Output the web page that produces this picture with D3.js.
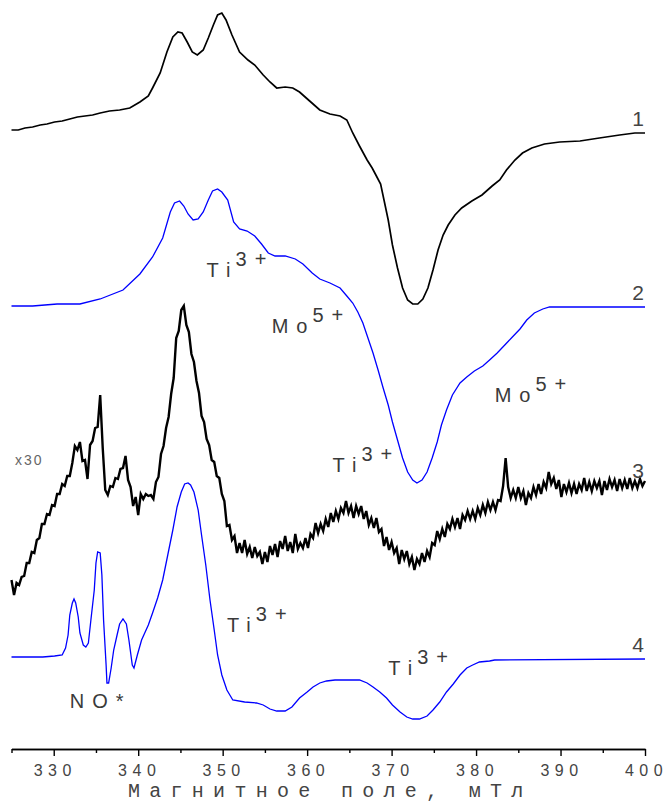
<!DOCTYPE html>
<html>
<head>
<meta charset="utf-8">
<script src="https://cdn.jsdelivr.net/npm/d3@7"></script>
<style>
  html, body { margin: 0; padding: 0; background: #fff; }
  svg { display: block; }
</style>
</head>
<body>
<div id="chart"></div>
<script>
// ---- EPR spectra, field in mT, intensity in arbitrary units relative to each trace baseline ----

// Trace 1: black experimental spectrum (field, intensity)
const trace1 = [
  [325.0,3],[325.8,3],[326.6,5],[327.5,6],[328.4,8],[329.2,9],[330.1,11],[331.0,12],[331.9,14],[332.8,16],
  [333.7,17],[334.6,18],[335.5,20],[336.6,22],[337.8,23],[339.0,25],[340.2,31],[341.2,37],[341.7,45],[342.6,60],
  [343.4,81],[344.1,96],[344.7,101],[345.2,100],[345.8,91],[346.4,81],[347.0,78],[347.7,83],[348.3,95],[348.9,108],
  [349.4,118],[349.9,120],[350.4,113],[351.1,98],[352.0,81],[353.0,73],[353.8,68],[354.8,58],[355.6,51],[356.4,45],
  [357.4,46],[358.3,45],[359.1,41],[360.3,32],[361.5,23],[362.7,19],[363.9,17],[364.7,13],[365.4,0],[366.2,-13],
  [367.1,-27],[367.7,-35],[368.2,-43],[368.7,-51],[369.1,-67],[369.6,-87],[370.1,-112],[370.7,-135],[371.3,-155],[371.9,-167],
  [372.5,-171],[373.1,-171],[373.7,-166],[374.3,-155],[374.9,-137],[375.5,-117],[376.1,-102],[376.7,-92],[377.5,-82],[378.3,-75],
  [379.5,-68],[380.7,-62],[381.9,-53],[382.8,-47],[383.6,-37],[384.6,-27],[385.5,-20],[386.6,-15],[388.1,-11],[389.9,-9],
  [392.3,-8],[394.6,-5],[397.0,-2],[398.8,0],[400.0,0]
];

// Trace 2: blue simulated spectrum (field, intensity)
const trace2 = [
  [325.0,1],[327.5,1],[330.4,3],[333.1,3],[335.5,8],[338.2,17],[340.2,33],[341.7,50],[342.9,69],[343.8,95],
  [344.3,104],[344.9,106],[345.4,101],[345.9,93],[346.5,87],[347.1,88],[347.7,95],[348.3,107],[348.8,116],[349.4,118],
  [349.9,115],[350.6,107],[351.3,85],[352.0,78],[352.9,76],[353.8,71],[354.6,63],[355.4,54],[356.2,51],[357.4,51],
  [358.6,48],[359.5,43],[360.6,34],[361.5,28],[362.7,24],[363.9,19],[364.7,11],[365.4,4],[366.0,-5],[366.6,-16],
  [367.2,-31],[367.8,-46],[368.4,-63],[369.0,-81],[369.6,-98],[370.1,-115],[370.7,-133],[371.3,-151],[371.9,-165],[372.5,-173],
  [373.0,-176],[373.6,-173],[374.2,-165],[374.8,-151],[375.4,-135],[375.9,-118],[376.5,-103],[377.2,-88],[378.1,-76],[378.9,-70],
  [379.8,-64],[380.8,-59],[381.6,-53],[382.5,-46],[383.4,-38],[384.3,-30],[385.2,-22],[386.0,-13],[386.9,-6],[387.9,-2],
  [388.7,0],[400.0,0]
];

// Trace 3: black experimental spectrum x30, sampled every 0.3 mT from 325 mT
const trace3Values = [
  -95,-110,-98,-100,-92,-91,-78,-78,-67,-68,-55,-53,-39,-39,-29,-30,-20,-21,-9,-9,1,-1,9,9,
  22,39,35,43,24,25,6,40,44,57,58,90,37,
  -5,-10,-1,-2,7,6,16,17,29,5,-2,-21,-12,-30,-9,-14,-9,-11,-10,-14,
  3,8,31,39,57,68,91,107,147,154,175,179,160,153,131,123,104,92,69,63,46,40,25,23,9,7,-9,
  -16,-41,-40,-55,-51,-68,-58,-68,-55,-69,-62,-73,-62,-71,-67,-79,-67,-77,-61,-70,-59,-72,-56,-64,-51,-66,-57,-68,-49,-64,-58,
  -63,-53,-63,-49,-53,-38,-48,-39,-46,-34,-42,-28,-37,-26,-34,-23,-28,-16,-28,-21,-33,-21,-29,-21,-34,-26,-40,-33,-43,-33,
  -47,-44,-61,-52,-65,-57,-68,-63,-79,-65,-74,-66,-79,-72,-85,-74,
  -79,-68,-77,-66,-72,-58,-60,-46,-54,-44,-52,-39,-44,-34,-42,-33,-44,-30,-35,-26,-34,-26,-34,-23,-30,-20,-28,-17,-25,-17,-25,-15,-16,-1,
  27,
  -2,-13,-5,-13,-2,-13,-6,-20,-8,-13,-2,-10,1,-9,3,-3,13,1,7,-4,5,-12,1,-7,2,
  -8,1,-9,1,-5,7,-6,3,-6,4,-3,4,-10,4,-5,6,-2,5,-6,6,-3,5,-4,7,-3,4,-3,6,-1,4
];
const trace3Start = 325;
const trace3Step = 0.3;

// Trace 4: blue simulated spectrum (field, intensity)
const trace4 = [
  [325.0,2],[328.7,2],[330.1,3],[331.0,4],[331.4,11],[331.7,24],[331.9,44],[332.2,56],[332.4,60],[332.6,56],
  [332.9,42],[333.1,26],[333.5,14],[333.8,12],[334.1,16],[334.4,39],[334.8,69],[335.0,96],[335.2,107],[335.5,106],
  [335.7,84],[335.9,39],[336.2,-6],[336.3,-24],[336.5,-24],[336.8,-9],[337.1,9],[337.5,24],[337.8,35],[338.2,40],
  [338.6,35],[338.9,19],[339.3,-6],[339.5,-9],[339.9,4],[340.4,19],[341.2,34],[341.7,46],[342.3,61],[342.9,79],
  [343.5,104],[344.1,129],[344.6,152],[345.1,167],[345.5,175],[345.9,176],[346.2,174],[346.6,167],[347.1,149],[347.5,124],
  [348.0,94],[348.5,59],[349.0,29],[349.4,4],[349.9,-16],[350.5,-31],[351.2,-41],[352.6,-43],[354.0,-44],[354.8,-46],
  [355.6,-50],[356.4,-52],[357.4,-52],[358.2,-48],[359.1,-39],[360.0,-33],[360.7,-28],[361.5,-24],[362.3,-22],[363.3,-21],
  [365.0,-21],[366.2,-21],[367.1,-24],[367.8,-28],[368.6,-33],[369.4,-39],[370.1,-46],[371.0,-53],[371.8,-58],[372.5,-60],
  [373.3,-60],[374.2,-57],[374.9,-51],[375.7,-43],[376.5,-33],[377.3,-25],[378.1,-16],[378.9,-9],[379.6,-6],[380.4,-3],
  [381.6,-2],[382.2,-1],[400.0,0]
];

// Vertical offsets of the stacked traces
const traceOffsets = [612, 438, 260, 86];
const traceNames = ["1", "2", "3", "4"];

// Axis ticks (mT)
const majorTicks = [330, 340, 350, 360, 370, 380, 390, 400];
const minorTicks = [325, 335, 345, 355, 365, 375, 385, 395];
const axisTitle = "Магнитное поле, мТл";

// Species annotations: text, superscript, field (mT), level
const annotations = [
  { main: "Ti",  sup: "3+", field: 348.1, level: 468 },
  { main: "Mo",  sup: "5+", field: 355.8, level: 412 },
  { main: "Mo",  sup: "5+", field: 382.2, level: 343 },
  { main: "Ti",  sup: "3+", field: 363.0, level: 273 },
  { main: "Ti",  sup: "3+", field: 350.5, level: 113 },
  { main: "NO*", sup: "",   field: 331.9, level: 37 },
  { main: "Ti",  sup: "3+", field: 369.6, level: 70 }
];

// ---- drawing ----
const width = 667, height = 803;
const axisY = 749;

const svg = d3.select("#chart").append("svg")
  .attr("width", width).attr("height", height);

const x = d3.scaleLinear().domain([325, 400]).range([11.5, 645]);
const y = d3.scaleLinear().domain([0, 745]).range([745, 0]);

const trace3 = trace3Values.map((v, i) => [trace3Start + i * trace3Step, v]);
const series = [
  { data: trace1, color: "#000", width: 1.7 },
  { data: trace2, color: "#0000ff", width: 1.3 },
  { data: trace3, color: "#000", width: 2.4 },
  { data: trace4, color: "#0000ff", width: 1.3 }
];

series.forEach((s, k) => {
  const off = traceOffsets[k];
  const line = d3.line()
    .x(d => x(d[0]))
    .y(d => y(d[1] + off));
  svg.append("path")
    .datum(s.data)
    .attr("fill", "none")
    .attr("stroke", s.color)
    .attr("stroke-width", s.width)
    .attr("stroke-linejoin", "miter")
    .attr("d", line);

  svg.append("text")
    .attr("x", x(400) - 1)
    .attr("y", y(off) - 7)
    .attr("text-anchor", "end")
    .attr("font-family", "Liberation Sans, Arial, sans-serif")
    .attr("font-size", 21)
    .attr("fill", "#444")
    .text(traceNames[k]);
});

// Scale factor note on trace 3
svg.append("text")
  .attr("x", x(325.4))
  .attr("y", y(280))
  .attr("font-family", "Liberation Sans, Arial, sans-serif")
  .attr("font-size", 14)
  .attr("letter-spacing", 2)
  .attr("fill", "#666")
  .text("x30");

// Species labels
annotations.forEach(a => {
  const t = svg.append("text")
    .attr("x", x(a.field))
    .attr("y", y(a.level))
    .attr("font-family", "Liberation Sans, Arial, sans-serif")
    .attr("font-size", 20)
    .attr("letter-spacing", 8)
    .attr("fill", "#3a3a3a");
  t.append("tspan").text(a.main);
  if (a.sup) {
    t.append("tspan").attr("dx", -3).attr("dy", -11).text(a.sup);
  }
});

// Bottom axis: major ticks with labels, minor ticks without
const majorAxis = d3.axisBottom(x)
  .tickValues(majorTicks)
  .tickSize(7)
  .tickSizeOuter(0)
  .tickPadding(9)
  .tickFormat(d3.format("d"));

const minorAxis = d3.axisBottom(x)
  .tickValues(minorTicks)
  .tickSize(4)
  .tickSizeOuter(0)
  .tickFormat("");

const gMinor = svg.append("g").attr("transform", `translate(0,${axisY})`).call(minorAxis);
const gMajor = svg.append("g").attr("transform", `translate(0,${axisY})`).call(majorAxis);

[gMinor, gMajor].forEach(g => {
  g.select(".domain").attr("stroke", "#000").attr("stroke-width", 1.6);
  g.selectAll(".tick line").attr("stroke", "#000").attr("stroke-width", 1.4);
});
gMajor.selectAll(".tick text")
  .attr("font-family", "Liberation Sans, Arial, sans-serif")
  .attr("font-size", 16)
  .attr("letter-spacing", 5.5)
  .attr("dx", 1)
  .attr("fill", "#444");

// Axis title
svg.append("text")
  .attr("x", (x.range()[0] + x.range()[1]) / 2 + 2)
  .attr("y", 797)
  .attr("text-anchor", "middle")
  .attr("font-family", "Liberation Mono, Courier New, monospace")
  .attr("font-size", 20)
  .attr("letter-spacing", 9.3)
  .attr("fill", "#444")
  .text(axisTitle);
</script>
</body>
</html>
